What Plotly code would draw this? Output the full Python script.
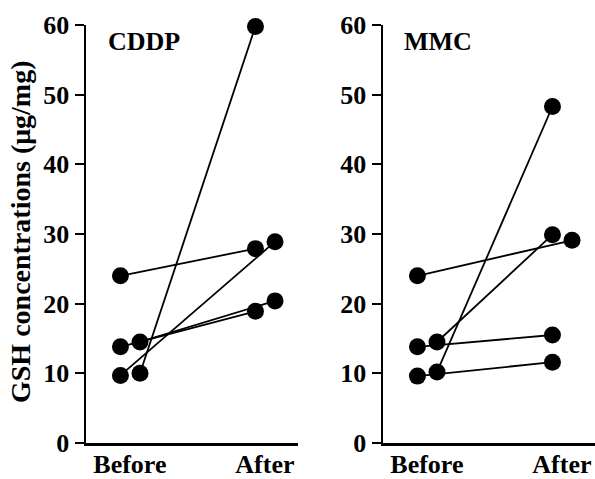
import plotly.graph_objects as go

categories = ["Before", "After"]
y_ticks = [0, 10, 20, 30, 40, 50, 60]
axis_title = "GSH concentrations (μg/mg)"

# CDDP panel: paired patients (before -> after), and which side of the column each dot sits on
cddp_before = [24.0, 10.0, 9.7, 13.8, 14.5]
cddp_after = [27.9, 59.8, 28.9, 18.9, 20.4]
cddp_before_side = ["L", "R", "L", "L", "R"]
cddp_after_side = ["L", "L", "R", "L", "R"]

# MMC panel
mmc_before = [24.0, 14.5, 10.2, 13.8, 9.6]
mmc_after = [29.1, 29.9, 48.3, 15.5, 11.6]
mmc_before_side = ["L", "R", "R", "L", "L"]
mmc_after_side = ["R", "L", "L", "L", "L"]

OFF = {"L": -0.07, "R": 0.075}
FONT = "Liberation Serif"

fig = go.Figure()


def add_panel(before, after, bside, aside, xa, ya):
    for b, a, sb, sa in zip(before, after, bside, aside):
        fig.add_trace(go.Scatter(
            x=[0 + OFF[sb], 1 + OFF[sa]], y=[b, a],
            mode="lines+markers", cliponaxis=False,
            line=dict(color="black", width=1.8),
            marker=dict(color="black", size=17),
            xaxis=xa, yaxis=ya, showlegend=False, hoverinfo="skip"))


add_panel(cddp_before, cddp_after, cddp_before_side, cddp_after_side, "x", "y")
add_panel(mmc_before, mmc_after, mmc_before_side, mmc_after_side, "x2", "y2")

W, H = 595, 479
ytop, ybot = 25, 443
ydom = [1 - ybot / H, 1 - ytop / H]

tf = dict(family=FONT, size=26, color="black", weight="bold")

xcommon = dict(
    range=[-0.325, 1.245], tickvals=[0, 1], ticktext=categories,
    showline=True, linecolor="black", linewidth=2.5, ticks="", showgrid=False,
    zeroline=False, tickfont=tf, automargin=False, fixedrange=True,
    ticklabelstandoff=-4,
)
ycommon = dict(
    range=[0, 60], tickvals=y_ticks, showline=True, linecolor="black", linewidth=2.5,
    ticks="outside", ticklen=9, tickwidth=2, tickcolor="black", showgrid=False,
    zeroline=False, tickfont=tf, automargin=False,
    domain=ydom, fixedrange=True,
)

fig.update_layout(
    template="none",
    width=W, height=H, margin=dict(l=0, r=0, t=0, b=0, autoexpand=False),
    paper_bgcolor="white", plot_bgcolor="white",
    xaxis=dict(domain=[86 / W, 298 / W], anchor="y", **xcommon),
    yaxis=dict(anchor="x", **ycommon),
    xaxis2=dict(domain=[383 / W, 1.0], anchor="y2", **xcommon),
    yaxis2=dict(anchor="x2", **ycommon),
    annotations=[
        dict(text="CDDP", x=106 / W, y=1 - 42 / H, xref="paper", yref="paper",
             xanchor="left", yanchor="middle", showarrow=False, font=tf),
        dict(text="MMC", x=402 / W, y=1 - 42 / H, xref="paper", yref="paper",
             xanchor="left", yanchor="middle", showarrow=False, font=tf),
        dict(text=axis_title, x=20 / W, y=1 - 232 / H, xref="paper", yref="paper",
             xanchor="center", yanchor="middle", showarrow=False, textangle=-90,
             font=dict(family=FONT, size=28, color="black", weight="bold")),
    ],
)

fig.write_html(
    "out.html",
    config={"displayModeBar": False, "staticPlot": True},
    post_script="document.body.style.margin='0';document.body.style.overflow='hidden';",
)
